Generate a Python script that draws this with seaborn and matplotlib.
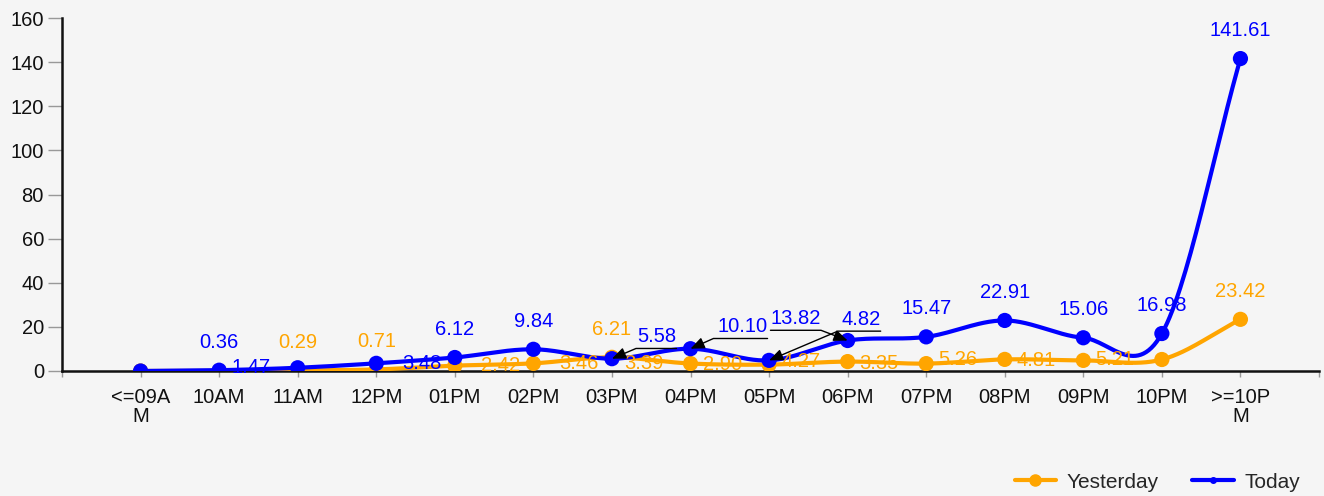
import numpy as np
import pandas as pd
import matplotlib.pyplot as plt
from matplotlib.lines import Line2D
import seaborn as sns

# hourly values
hours = ['<=09A\nM', '10AM', '11AM', '12PM', '01PM', '02PM', '03PM', '04PM',
         '05PM', '06PM', '07PM', '08PM', '09PM', '10PM', '>=10P\nM']
yesterday = [0, 0, 0.29, 0.71, 2.42, 3.46, 6.21, 3.39, 2.90, 4.27, 3.35,
             5.26, 4.81, 5.21, 23.42]
today = [0, 0.36, 1.47, 3.48, 6.12, 9.84, 5.58, 10.10, 4.82, 13.82, 15.47,
         22.91, 15.06, 16.98, 141.61]
series_names = ['Yesterday', 'Today']
y_ticks = [0, 20, 40, 60, 80, 100, 120, 140, 160]

ORANGE = '#FFA500'
BLUE = '#0000FF'
BG = '#F5F5F5'
FS = 14.5

sns.set_theme(style='white')
plt.rcParams['font.family'] = ['Liberation Sans', 'DejaVu Sans']
plt.rcParams['font.size'] = FS


def catmull_rom(y, steps=30):
    # smooth curve through the points (same look as the chart's spline)
    y = np.asarray(y, dtype=float)
    n = len(y)
    m = np.zeros(n)
    m[1:-1] = (y[2:] - y[:-2]) / 2
    m[0] = y[1] - y[0]
    m[-1] = y[-1] - y[-2]
    xs, ys = [], []
    for i in range(n - 1):
        t = np.linspace(0, 1, steps, endpoint=False)
        h00 = 2 * t**3 - 3 * t**2 + 1
        h10 = t**3 - 2 * t**2 + t
        h01 = -2 * t**3 + 3 * t**2
        h11 = t**3 - t**2
        xs.append(i + t)
        ys.append(h00 * y[i] + h10 * m[i] + h01 * y[i + 1] + h11 * m[i + 1])
    xs.append([n - 1])
    ys.append([y[-1]])
    return np.concatenate(xs), np.concatenate(ys)


fig = plt.figure(figsize=(13.24, 4.96), dpi=100, facecolor=BG)
ax = fig.add_axes([62 / 1324, 125 / 496, 1257 / 1324, 353 / 496])
ax.set_facecolor(BG)

x = np.arange(len(hours))
for vals, col, z in [(yesterday, ORANGE, 3), (today, BLUE, 4)]:
    sx, sy = catmull_rom(vals)
    sns.lineplot(x=sx, y=sy, ax=ax, color=col, linewidth=3, zorder=z,
                 sort=False, estimator=None)
    sns.scatterplot(x=x, y=vals, ax=ax, color=col, s=120, edgecolor='none',
                    zorder=z + 0.5)

# label placement: a = above, l = left, r = right, None = no label
ypos = [None, None, 'a', 'a', 'r', 'r', 'a', 'l', 'l', 'l', 'l', 'l', 'l', 'l', 'a']
tpos = [None, 'a', 'l', 'r', 'a', 'a', 'arrow', 'arrow', 'arrow', 'arrow',
        'a', 'a', 'a', 'a', 'a']
offs = {'a': (0, 28), 'l': (-47, 0), 'r': (46, 0)}
# arrow labels: text offset (px), start corner, angle of the pointer
arrows = {6: ((45, 22), (1, -0.12), 23), 7: ((52, 22), (1, -0.12), 24),
          8: ((92, 41), (1, -0.12), 23), 9: ((-52, 22), (0, -0.12), -21)}

for vals, pos, col in [(yesterday, ypos, ORANGE), (today, tpos, BLUE)]:
    for i, (v, p) in enumerate(zip(vals, pos)):
        if p is None:
            continue
        if p == 'arrow':
            off, rel, ang = arrows[i]
            ax.annotate(f'{v:.2f}', xy=(i, v), xytext=off,
                        textcoords='offset pixels', ha='center', va='center',
                        color=col, fontsize=FS, zorder=10,
                        arrowprops=dict(arrowstyle='-|>,head_length=0.6,head_width=0.25',
                                        color='black', lw=1, relpos=rel, patchA=None,
                                        shrinkA=0, shrinkB=0, mutation_scale=14,
                                        connectionstyle=f'angle,angleA=0,angleB={ang},rad=0'))
        else:
            ax.annotate(f'{v:.2f}', xy=(i, v), xytext=offs[p],
                        textcoords='offset pixels', ha='center', va='center',
                        color=col, fontsize=FS, zorder=10)

ax.set_xlim(-1, len(hours))
ax.set_ylim(0, 160)
ax.set_yticks(y_ticks)
ax.set_xticks(np.arange(-1, len(hours) + 1))
ax.set_xticklabels([''] + hours + [''])
for lab in ax.get_xticklabels():
    lab.set_linespacing(1.05)
ax.set_xlabel('')
ax.set_ylabel('')

for s in ['top', 'right']:
    ax.spines[s].set_visible(False)
for s in ['left', 'bottom']:
    ax.spines[s].set_color('#111111')
    ax.spines[s].set_linewidth(1.8)
ax.tick_params(axis='y', length=10, width=1, color='#999999', pad=3,
               labelsize=FS, labelcolor='#111111', left=True)
ax.tick_params(axis='x', length=4, width=1, color='#999999', pad=8,
               labelsize=FS, labelcolor='#111111', bottom=True)

handles = [Line2D([], [], color=ORANGE, lw=3, marker='o', markersize=8),
           Line2D([], [], color=BLUE, lw=3, marker='o', markersize=4)]
fig.legend(handles, series_names, loc='center right',
           bbox_to_anchor=(1300 / 1324, 14 / 496), ncol=2, frameon=False,
           fontsize=15, handlelength=2.0, handletextpad=0.5, columnspacing=1.6,
           borderpad=0, borderaxespad=0)

fig.savefig('out.png', dpi=100, facecolor=BG)
